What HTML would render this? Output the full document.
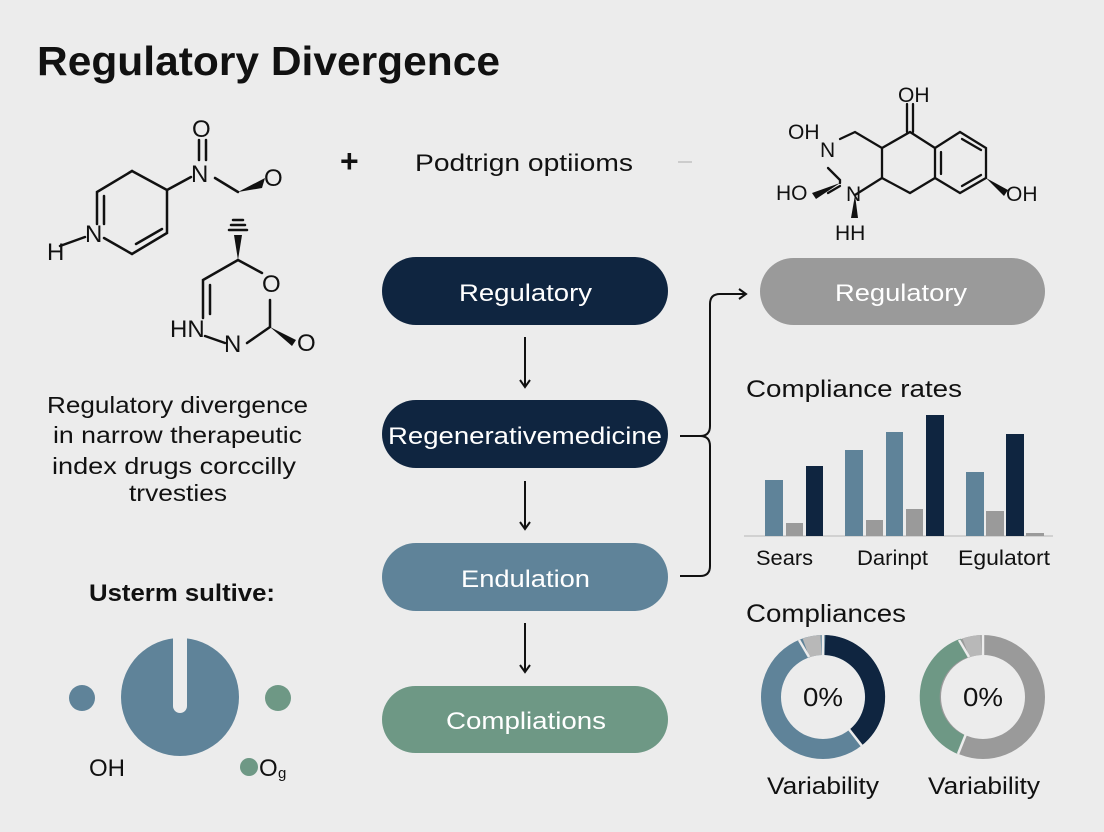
<!DOCTYPE html>
<html><head><meta charset="utf-8"><style>
html,body{margin:0;padding:0;background:#ececec;}
svg{display:block;font-family:"Liberation Sans",sans-serif;}
</style></head><body>
<svg width="1104" height="832" viewBox="0 0 1104 832" xmlns="http://www.w3.org/2000/svg">
<rect width="1104" height="832" fill="#ececec"/>
<text x="37" y="75" font-size="41" font-weight="bold" fill="#111" textLength="463" lengthAdjust="spacingAndGlyphs">Regulatory Divergence</text>

<!-- left molecule 1 -->
<g stroke="#111" stroke-width="2.5" fill="none" stroke-linecap="round">
<path d="M132,171 L167,190 L167,233 L132,254 L104,238"/>
<path d="M97,224 L97,192 L132,171"/>
<path d="M104,224 L104,196"/>
<path d="M136,244 L162,229"/>
<path d="M167,190 L191,177"/>
<path d="M199,140 L199,160 M206,140 L206,160"/>
<path d="M215,178 L238,192"/>
<path d="M60,246 L85,237"/>
</g>
<path d="M238,192 L265,178 L262,188 Z" fill="#111"/>
<g font-size="24" fill="#111">
<text x="192" y="137">O</text>
<text x="191" y="182">N</text>
<text x="264" y="186">O</text>
<text x="85" y="242">N</text>
<text x="47" y="260">H</text>
</g>
<!-- left molecule 2 -->
<g stroke="#111" stroke-width="2.5" fill="none" stroke-linecap="round">
<path d="M238,260 L203,280 L203,318"/>
<path d="M210,285 L210,314"/>
<path d="M238,260 L262,273"/>
<path d="M205,336 L225,343"/>
<path d="M247,343 L270,327 L270,300"/>
<path d="M229,230 L247,230 M231,225 L245,225 M233,220 L243,220"/>
</g>
<path d="M238,260 L234,235 L242,235 Z" fill="#111"/>
<path d="M270,327 L296,340 L292,346 Z" fill="#111"/>
<g font-size="24" fill="#111">
<text x="262" y="292">O</text>
<text x="170" y="337">HN</text>
<text x="224" y="352">N</text>
<text x="297" y="351">O</text>
</g>

<text x="340" y="172" font-size="32" font-weight="bold" fill="#111">+</text>
<text x="415" y="171" font-size="24" fill="#111" textLength="218" lengthAdjust="spacingAndGlyphs">Podtrign optiioms</text>
<line x1="678" y1="162" x2="692" y2="162" stroke="#ccc" stroke-width="2"/>

<g font-size="23" fill="#111">
<text x="47" y="413" textLength="261" lengthAdjust="spacingAndGlyphs">Regulatory divergence</text>
<text x="53" y="443" textLength="249" lengthAdjust="spacingAndGlyphs">in narrow therapeutic</text>
<text x="52" y="474" textLength="244" lengthAdjust="spacingAndGlyphs">index drugs corccilly</text>
<text x="129" y="501" textLength="98" lengthAdjust="spacingAndGlyphs">trvesties</text>
</g>

<text x="89" y="601" font-size="24" font-weight="bold" fill="#111" textLength="186" lengthAdjust="spacingAndGlyphs">Usterm sultive:</text>
<circle cx="180" cy="697" r="59" fill="#5f8399"/>
<path d="M173,637 L187,637 L187,706 A7,7 0 0 1 173,706 Z" fill="#ececec"/>
<circle cx="82" cy="698" r="13" fill="#5f8399"/>
<circle cx="278" cy="698" r="13" fill="#6e9885"/>
<circle cx="249" cy="767" r="9" fill="#6e9885"/>
<text x="89" y="776" font-size="24" fill="#111">OH</text>
<text x="259" y="776" font-size="24" fill="#111">O</text>
<text x="278" y="778" font-size="15" fill="#111">g</text>

<!-- flow pills -->
<rect x="382" y="257" width="286" height="68" rx="34" fill="#0f2540"/>
<text x="459" y="301" font-size="24" fill="#fff" textLength="133" lengthAdjust="spacingAndGlyphs">Regulatory</text>
<rect x="382" y="400" width="286" height="68" rx="34" fill="#0f2540"/>
<text x="388" y="444" font-size="24" fill="#fff" textLength="274" lengthAdjust="spacingAndGlyphs">Regenerativemedicine</text>
<rect x="382" y="543" width="286" height="68" rx="34" fill="#5f8399"/>
<text x="461" y="587" font-size="24" fill="#fff" textLength="129" lengthAdjust="spacingAndGlyphs">Endulation</text>
<rect x="382" y="686" width="286" height="67" rx="33.5" fill="#6e9885"/>
<text x="446" y="729" font-size="24" fill="#fff" textLength="160" lengthAdjust="spacingAndGlyphs">Compliations</text>
<g stroke="#111" stroke-width="2" fill="none">
<path d="M525,337 L525,386 M520,380 L525,387 L530,380"/>
<path d="M525,481 L525,528 M520,522 L525,529 L530,522"/>
<path d="M525,623 L525,671 M520,665 L525,672 L530,665"/>
<path d="M680,436 L700,436 Q710,436 710,426 L710,304 Q710,294 720,294 L745,294 M739,289 L746,294 L739,299"/>
<path d="M700,436 Q710,436 710,446 L710,566 Q710,576 700,576 L680,576"/>
</g>
<rect x="760" y="258" width="285" height="67" rx="33.5" fill="#9a9a9a"/>
<text x="835" y="301" font-size="24" fill="#fff" textLength="132" lengthAdjust="spacingAndGlyphs">Regulatory</text>

<!-- right molecule -->
<g stroke="#111" stroke-width="2.3" fill="none" stroke-linecap="round">
<path d="M907,104 L907,132 M913,104 L913,132"/>
<path d="M840,139 L855,132 L882,148 L882,178 L855,195"/>
<path d="M882,148 L910,132 L935,148 L960,132 L986,148 L986,178 L960,193 L935,178 L910,193 L882,178"/>
<path d="M935,148 L935,178 M941,152 L941,174 M962,139 L981,150 M962,186 L981,175"/>
<path d="M828,168 L840,180 L840,183"/>
<path d="M840,186 L828,193"/>
</g>
<path d="M840,183 L812,193 L816,199 Z" fill="#111"/>
<path d="M986,178 L1008,190 L1004,196 Z" fill="#111"/>
<path d="M855,195 L851,218 L858,218 Z" fill="#111"/>
<g font-size="21" fill="#111">
<text x="898" y="102">OH</text>
<text x="788" y="139">OH</text>
<text x="820" y="157">N</text>
<text x="776" y="200">HO</text>
<text x="846" y="201">N</text>
<text x="835" y="240">HH</text>
<text x="1006" y="201">OH</text>
</g>

<!-- bar chart -->
<text x="746" y="397" font-size="24" fill="#111" textLength="216" lengthAdjust="spacingAndGlyphs">Compliance rates</text>
<line x1="744" y1="536" x2="1053" y2="536" stroke="#c8c8c8" stroke-width="1.5"/>
<g>
<rect x="765" y="480" width="18" height="56" fill="#5f8399"/>
<rect x="786" y="523" width="17" height="13" fill="#9a9a9a"/>
<rect x="806" y="466" width="17" height="70" fill="#0f2540"/>
<rect x="845" y="450" width="18" height="86" fill="#5f8399"/>
<rect x="866" y="520" width="17" height="16" fill="#9a9a9a"/>
<rect x="886" y="432" width="17" height="104" fill="#5f8399"/>
<rect x="906" y="509" width="17" height="27" fill="#9a9a9a"/>
<rect x="926" y="415" width="18" height="121" fill="#0f2540"/>
<rect x="966" y="472" width="18" height="64" fill="#5f8399"/>
<rect x="986" y="511" width="18" height="25" fill="#9a9a9a"/>
<rect x="1006" y="434" width="18" height="102" fill="#0f2540"/>
<rect x="1026" y="533" width="18" height="3" fill="#9a9a9a"/>
</g>
<g font-size="21" fill="#111">
<text x="756" y="565" textLength="57" lengthAdjust="spacingAndGlyphs">Sears</text>
<text x="857" y="565" textLength="71" lengthAdjust="spacingAndGlyphs">Darinpt</text>
<text x="958" y="565" textLength="92" lengthAdjust="spacingAndGlyphs">Egulatort</text>
</g>

<!-- donuts -->
<text x="746" y="622" font-size="25" fill="#111" textLength="160" lengthAdjust="spacingAndGlyphs">Compliances</text>
<g fill="none" stroke-width="20">
<circle cx="823" cy="697" r="52" stroke="#5f8399"/>
<path d="M825,645 A52,52 0 0 1 855,738" stroke="#0f2540"/>
<path d="M806,648 A52,52 0 0 1 821,645" stroke="#b8b8b8"/>
<circle cx="983" cy="697" r="52" stroke="#9a9a9a"/>
<path d="M964,648 A52,52 0 0 0 962,745" stroke="#6e9885"/>
<path d="M966,648 A52,52 0 0 1 981,645" stroke="#b8b8b8"/>
</g>
<g stroke="#ececec" stroke-width="2.5">
<line x1="823" y1="634" x2="823" y2="656"/>
<line x1="799" y1="640" x2="809" y2="657"/>
<line x1="848" y1="728" x2="862" y2="746"/>
<line x1="983" y1="634" x2="983" y2="656"/>
<line x1="959" y1="640" x2="969" y2="657"/>
<line x1="966" y1="734" x2="958" y2="754"/>
</g>
<text x="803" y="706" font-size="26" fill="#111" textLength="40" lengthAdjust="spacingAndGlyphs">0%</text>
<text x="963" y="706" font-size="26" fill="#111" textLength="40" lengthAdjust="spacingAndGlyphs">0%</text>
<text x="767" y="794" font-size="24" fill="#111" textLength="112" lengthAdjust="spacingAndGlyphs">Variability</text>
<text x="928" y="794" font-size="24" fill="#111" textLength="112" lengthAdjust="spacingAndGlyphs">Variability</text>
</svg>
</body></html>
